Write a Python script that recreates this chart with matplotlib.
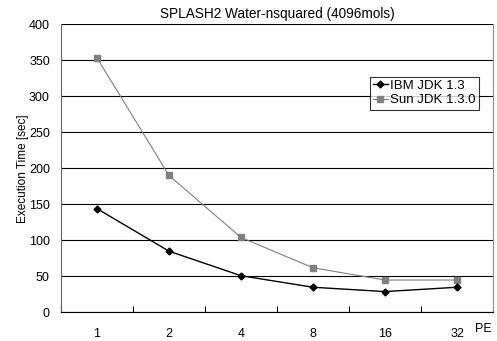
import numpy as np
import matplotlib.pyplot as plt

plt.rcParams['font.family'] = ['Liberation Sans', 'DejaVu Sans']

pe = ['1', '2', '4', '8', '16', '32']
ibm = [144, 85, 51, 35, 29, 35]
sun = [353, 190, 104, 62, 45, 45]

fig = plt.figure(figsize=(4.97, 3.41), dpi=100)
ax = fig.add_axes([0.1227, 0.0836, 0.8693, 0.846])

x = np.arange(len(pe))
ax.plot(x, sun, color='#808080', lw=0.8, marker='s', ms=4.5, mfc='#808080', mec='#808080', label='Sun JDK 1.3.0')
ax.plot(x, ibm, color='black', lw=1.0, marker='D', ms=3.5, mfc='black', mec='black', label='IBM JDK 1.3')

ax.set_xlim(-0.5, len(pe) - 0.5)
ax.set_ylim(0, 400)
ax.set_yticks(range(0, 401, 50))
ax.yaxis.grid(True, color='black', lw=0.8)
ax.set_axisbelow(True)

ax.set_xticks(np.arange(-0.5, len(pe), 1.0))
ax.set_xticklabels([])
ax.set_xticks(x, minor=True)
ax.set_xticklabels(pe, minor=True)
ax.tick_params(axis='x', which='major', direction='in', length=4, width=0.8)
ax.tick_params(axis='x', which='minor', length=0, pad=11, labelsize=9)
ax.tick_params(axis='y', length=0, pad=8, labelsize=9)

ax.spines['top'].set_visible(False)
for s in ['left', 'bottom', 'right']:
    ax.spines[s].set_linewidth(0.8)
ax.spines['right'].set_color('#909090')
ax.spines['left'].set_color('#606060')

ax.text(5.25, -0.058, 'PE', transform=ax.get_xaxis_transform(), fontsize=9, ha='left', va='center')
ax.set_ylabel('Execution Time [sec]', fontsize=8.5)
ax.yaxis.set_label_coords(-0.075, 0.5)
ax.set_title('SPLASH2 Water-nsquared (4096mols)', fontsize=9.8, pad=4)

h, l = ax.get_legend_handles_labels()
leg = ax.legend(h[::-1], l[::-1], loc='upper left', bbox_to_anchor=(0.715, 0.818), fontsize=9.5,
                frameon=True, fancybox=False, edgecolor='black', handlelength=1.1,
                handletextpad=0.2, borderpad=0.25, labelspacing=0.15, borderaxespad=0)
leg.get_frame().set_linewidth(0.8)

plt.savefig('out.png', dpi=100)
